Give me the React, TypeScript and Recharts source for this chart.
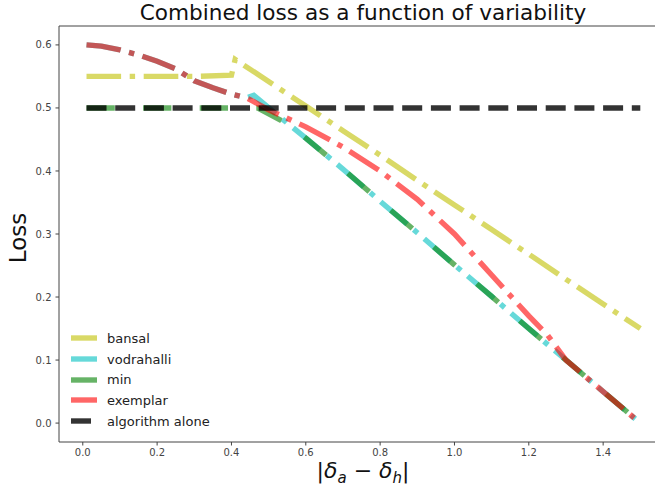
import { LineChart, Line, XAxis, YAxis, Legend, ReferenceLine } from 'recharts'

// values
const bansalX = [0.01, 0.1, 0.2, 0.3, 0.4, 0.41, 0.5, 0.6, 0.7, 0.8, 0.9, 1.0, 1.1, 1.2, 1.3, 1.4, 1.5]
const bansalY = [0.55, 0.55, 0.55, 0.55, 0.552, 0.577, 0.542, 0.503, 0.464, 0.425, 0.385, 0.346, 0.307, 0.268, 0.228, 0.189, 0.15]

const vodrahalliX = [0.01, 0.05, 0.1, 0.15, 0.2, 0.25, 0.3, 0.35, 0.4, 0.44, 0.46, 0.55, 0.6, 0.7, 0.8, 0.9, 1.0, 1.1, 1.2, 1.3, 1.4, 1.5]
const vodrahalliY = [0.6, 0.598, 0.592, 0.584, 0.574, 0.562, 0.543, 0.532, 0.522, 0.516, 0.52, 0.476, 0.452, 0.403, 0.352, 0.302, 0.251, 0.201, 0.15, 0.1, 0.05, 0.0]

const minX = [0.01, 0.1, 0.2, 0.3, 0.4, 0.47, 0.55, 0.6, 0.7, 0.8, 0.9, 1.0, 1.1, 1.2, 1.3, 1.4, 1.5]
const minY = [0.5, 0.5, 0.5, 0.5, 0.5, 0.5, 0.475, 0.452, 0.403, 0.352, 0.302, 0.251, 0.201, 0.15, 0.1, 0.05, 0.0]

const exemplarX = [0.01, 0.05, 0.1, 0.15, 0.2, 0.25, 0.3, 0.35, 0.4, 0.44, 0.46, 0.5, 0.6, 0.7, 0.8, 0.9, 1.0, 1.1, 1.2, 1.25, 1.3, 1.4, 1.5]
const exemplarY = [0.6, 0.598, 0.592, 0.584, 0.574, 0.562, 0.543, 0.532, 0.522, 0.516, 0.51, 0.497, 0.47, 0.438, 0.4, 0.355, 0.3, 0.235, 0.17, 0.14, 0.1, 0.05, 0.0]

const aloneX = [0.01, 0.5, 1.0, 1.5]
const aloneY = [0.5, 0.5, 0.5, 0.5]

const xTicks = [0, 0.2, 0.4, 0.6, 0.8, 1.0, 1.2, 1.4]
const yTicks = [0, 0.1, 0.2, 0.3, 0.4, 0.5, 0.6]

const X_DOMAIN: [number, number] = [-0.064, 1.5745]
const Y_DOMAIN: [number, number] = [-0.03, 0.63]

const toPoints = (xs: number[], ys: number[]) => xs.map((x, i) => ({ x, y: ys[i] }))

const DASHDOT = '34.6 8.6 5.4 8.6'
const series = [
  { name: 'bansal', data: toPoints(bansalX, bansalY), color: '#bfbf00', opacity: 0.6, dash: DASHDOT },
  { name: 'vodrahalli', data: toPoints(vodrahalliX, vodrahalliY), color: '#00bfbf', opacity: 0.6, dash: DASHDOT },
  { name: 'min', data: toPoints(minX, minY), color: '#008000', opacity: 0.6, dash: '28.3 28.3' },
  { name: 'exemplar', data: toPoints(exemplarX, exemplarY), color: '#ff0000', opacity: 0.6, dash: DASHDOT },
  { name: 'algorithm alone', data: toPoints(aloneX, aloneY), color: '#000000', opacity: 0.8, dash: '20 8.7' },
]

const FONT = '"DejaVu Sans", sans-serif'
const tickStyle = { fill: '#444', fontSize: 10, fontFamily: FONT }
// x centre of the plot area (matplotlib centres title and xlabel on the axes)
const AXES_CX = 363

function LossLegend() {
  return (
    <div style={{ fontFamily: FONT, fontSize: 13, color: '#222' }}>
      {series.map((s) => (
        <div key={s.name} style={{ display: 'flex', alignItems: 'center', height: 20.7 }}>
          <svg width={36} height={8} style={{ display: 'block' }}>
            <line x1={0} y1={4} x2={26} y2={4} stroke={s.color} strokeOpacity={s.opacity} strokeWidth={5.4} strokeDasharray={s.dash} />
          </svg>
          <span>{s.name}</span>
        </div>
      ))}
    </div>
  )
}

export default function App() {
  return (
    <div style={{ position: 'absolute', left: 0, top: 0, width: 655, height: 493, overflow: 'hidden', background: '#fff' }}>
      <div style={{ position: 'absolute', left: AXES_CX, top: 2, transform: 'translateX(-50%)', whiteSpace: 'nowrap', fontFamily: FONT, fontSize: 21.6, lineHeight: 1, color: '#111' }}>
        Combined loss as a function of variability
      </div>
      <div style={{ position: 'absolute', left: 18, top: 238, transform: 'translate(-50%, -50%) rotate(-90deg)', fontFamily: FONT, fontSize: 23, lineHeight: 1, color: '#111', whiteSpace: 'nowrap' }}>
        Loss
      </div>
      <div style={{ position: 'absolute', left: AXES_CX, top: 460, transform: 'translateX(-50%)', whiteSpace: 'nowrap', fontFamily: FONT, fontSize: 22, lineHeight: 1, color: '#111' }}>
        |<i>δ</i><sub style={{ fontSize: 15 }}><i>a</i></sub> − <i>δ</i><sub style={{ fontSize: 15 }}><i>h</i></sub>|
      </div>
      <LineChart width={655} height={493} margin={{ top: 26, right: -13, bottom: 0, left: 0 }}>
        <XAxis
          dataKey="x"
          type="number"
          domain={X_DOMAIN}
          allowDataOverflow
          ticks={xTicks}
          tickFormatter={(v: number) => v.toFixed(1)}
          tick={tickStyle}
          tickSize={3.5}
          tickMargin={3}
          height={51}
          stroke="#444"
        />
        <YAxis
          type="number"
          domain={Y_DOMAIN}
          allowDataOverflow
          ticks={yTicks}
          tickFormatter={(v: number) => v.toFixed(1)}
          tick={tickStyle}
          tickSize={3.5}
          tickMargin={4}
          width={59}
          stroke="#444"
        />
        {/* top spine */}
        <ReferenceLine y={Y_DOMAIN[1]} stroke="#444" strokeWidth={1} ifOverflow="visible" />
        {series.map((s) => (
          <Line
            key={s.name}
            data={s.data}
            dataKey="y"
            name={s.name}
            type="linear"
            stroke={s.color}
            strokeOpacity={s.opacity}
            strokeWidth={5.4}
            strokeDasharray={s.dash}
            dot={false}
            activeDot={false}
            isAnimationActive={false}
          />
        ))}
        <Legend
          layout="vertical"
          align="center"
          verticalAlign="middle"
          content={<LossLegend />}
          wrapperStyle={{ position: 'absolute', left: 71, top: 328, width: 'auto', height: 'auto' }}
        />
      </LineChart>
    </div>
  )
}
